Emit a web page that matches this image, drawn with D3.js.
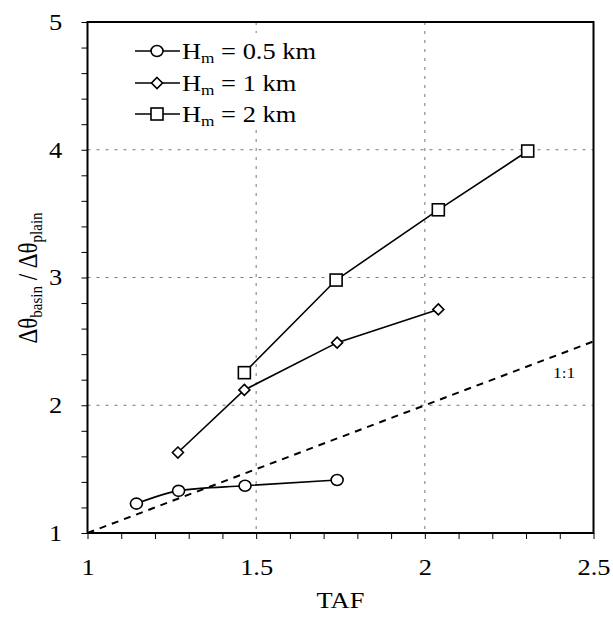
<!DOCTYPE html>
<html><head><meta charset="utf-8">
<script src="https://cdn.jsdelivr.net/npm/d3@7"></script>
</head><body style="margin:0;background:#fff">
<svg id="c" width="613" height="619" style="display:block"></svg>
<script>
const taf05 = [1.145, 1.27, 1.467, 1.74];
const ratio05 = [1.23, 1.33, 1.37, 1.415];
const taf1 = [1.268, 1.465, 1.74, 2.04];
const ratio1 = [1.63, 2.12, 2.49, 2.75];
const taf2 = [1.465, 1.737, 2.04, 2.305];
const ratio2 = [2.255, 2.98, 3.53, 3.99];
const legendLabels = ["0.5 km", "1 km", "2 km"];
const xTicks = [1, 1.5, 2, 2.5];
const yTicks = [1, 2, 3, 4, 5];
const oneToOne = [1, 2.5];

const FONT = "Liberation Serif";
const SX = 1.15;
const svg = d3.select("#c");
const x = d3.scaleLinear().domain([1, 2.5]).range([87.5, 593.5]);
const y = d3.scaleLinear().domain([1, 5]).range([533, 22]);

// grid
const gridX = [1.5, 2], gridY = [2, 3, 4];
svg.selectAll(".gx").data(gridX).enter().append("line")
  .attr("x1", d => x(d)).attr("x2", d => x(d)).attr("y1", y(5)).attr("y2", y(1))
  .attr("stroke", "#777").attr("stroke-width", 1).attr("stroke-dasharray", "3,6");
svg.selectAll(".gy").data(gridY).enter().append("line")
  .attr("x1", x(1)).attr("x2", x(2.5)).attr("y1", d => y(d)).attr("y2", d => y(d))
  .attr("stroke", "#777").attr("stroke-width", 1).attr("stroke-dasharray", "3,6");

// 1:1 line
svg.append("line").attr("x1", x(oneToOne[0])).attr("y1", y(oneToOne[0]))
  .attr("x2", x(oneToOne[1])).attr("y2", y(oneToOne[1]))
  .attr("stroke", "#000").attr("stroke-width", 2).attr("stroke-dasharray", "7,6");
svg.append("text").attr("transform", `translate(${x(2.38)},${y(2.21)}) scale(${SX},1)`)
  .attr("font-family", FONT).attr("font-size", 15).text("1:1");

// axes
const xAxis = d3.axisBottom(x).tickValues(d3.range(1, 2.5001, 0.1)).tickSize(6).tickFormat("");
const gx = svg.append("g").attr("transform", `translate(0,${y(1)})`).call(xAxis);
gx.select(".domain").remove();
gx.selectAll("line").attr("stroke", "#000");
const xLab = svg.append("g").attr("transform", `translate(0,${y(1)})`)
  .call(d3.axisBottom(x).tickValues(xTicks).tickSize(0).tickPadding(25.5).tickFormat(d3.format("")));
xLab.select(".domain").remove();
xLab.attr("font-family", FONT);
xLab.selectAll("text").attr("font-size", 23).attr("font-family", FONT).attr("fill", "#000")
  .attr("transform", `scale(${SX},1)`);

const yAxis = d3.axisLeft(y).tickValues(d3.range(1, 5.0001, 0.2)).tickSize(6).tickFormat("");
const gy = svg.append("g").attr("transform", `translate(${x(1)},0)`).call(yAxis);
gy.select(".domain").remove();
gy.selectAll("line").attr("stroke", "#000");
const yLab = svg.append("g").attr("transform", `translate(${x(1)},0)`)
  .call(d3.axisLeft(y).tickValues(yTicks).tickSize(0).tickPadding(22).tickFormat(d3.format("d")));
yLab.select(".domain").remove();
yLab.attr("font-family", FONT);
yLab.selectAll("text").attr("font-size", 23).attr("font-family", FONT).attr("fill", "#000")
  .attr("transform", `scale(${SX},1)`);

// frame
svg.append("rect").attr("x", x(1)).attr("y", y(5)).attr("width", x(2.5) - x(1)).attr("height", y(1) - y(5))
  .attr("fill", "none").attr("stroke", "#000").attr("stroke-width", 2);

// series
const series = [
  {t: taf05, r: ratio05, m: "circle", curve: d3.curveMonotoneX},
  {t: taf1, r: ratio1, m: "diamond", curve: d3.curveLinear},
  {t: taf2, r: ratio2, m: "square", curve: d3.curveLinear}
];
function marker(g, type, cx, cy) {
  if (type === "circle") g.append("ellipse").attr("cx", cx).attr("cy", cy).attr("rx", 6).attr("ry", 5.5);
  else if (type === "diamond") g.append("path").attr("d", `M${cx},${cy-5.5}L${cx+5.5},${cy}L${cx},${cy+5.5}L${cx-5.5},${cy}Z`);
  else g.append("rect").attr("x", cx - 6).attr("y", cy - 6).attr("width", 12).attr("height", 12);
}
series.forEach(s => {
  const pts = s.t.map((t, i) => [x(t), y(s.r[i])]);
  svg.append("path").attr("d", d3.line().curve(s.curve)(pts))
    .attr("fill", "none").attr("stroke", "#000").attr("stroke-width", 1.6);
  const g = svg.append("g").attr("fill", "#fff").attr("stroke", "#000").attr("stroke-width", 1.6);
  pts.forEach(p => marker(g, s.m, p[0], p[1]));
});

// legend
const lg = svg.append("g");
lg.append("rect").attr("x", 128).attr("y", 33).attr("width", 195).attr("height", 95).attr("fill", "#fff");
const rowsY = [51, 83, 114];
series.forEach((s, i) => {
  const yy = rowsY[i];
  lg.append("line").attr("x1", 135).attr("x2", 180).attr("y1", yy).attr("y2", yy)
    .attr("stroke", "#000").attr("stroke-width", 1.6);
  const g = lg.append("g").attr("fill", "#fff").attr("stroke", "#000").attr("stroke-width", 1.6);
  marker(g, s.m, 157, yy);
  const t = lg.append("text").attr("transform", `translate(182,${yy + 7.5}) scale(${SX},1)`)
    .attr("font-family", FONT).attr("font-size", 23);
  t.append("tspan").text("H");
  t.append("tspan").attr("font-size", 15).attr("dy", 4).text("m");
  t.append("tspan").attr("dy", -4).text(" = " + legendLabels[i]);
});

// axis titles
svg.append("text").attr("transform", `translate(${x(1.75)},608) scale(${SX},1)`)
  .attr("text-anchor", "middle").attr("font-family", FONT).attr("font-size", 23).text("TAF");
const yt = svg.append("text").attr("transform", `translate(37,278) rotate(-90) scale(1,${SX})`)
  .attr("text-anchor", "middle").attr("font-family", FONT).attr("font-size", 23);
yt.append("tspan").text("Δθ");
yt.append("tspan").attr("font-size", 15).attr("dy", 4).text("basin");
yt.append("tspan").attr("dy", -4).text(" / Δθ");
yt.append("tspan").attr("font-size", 15).attr("dy", 4).text("plain");
</script>
</body></html>
